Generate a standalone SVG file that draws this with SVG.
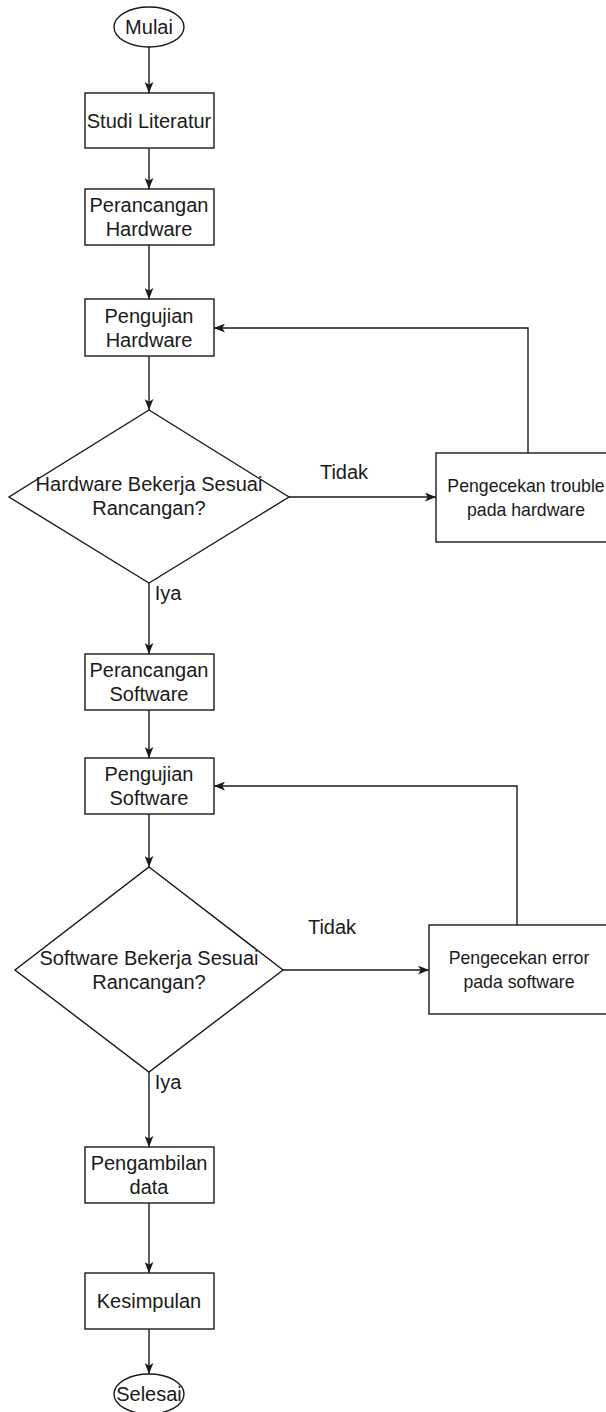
<svg xmlns="http://www.w3.org/2000/svg" width="606" height="1412" viewBox="0 0 606 1412">
<defs>
<style>
.shape{fill:#ffffff;stroke:#1a1a1a;stroke-width:1.4}
.conn{fill:none;stroke:#1a1a1a;stroke-width:1.4}
text{font-family:"Liberation Sans",Arial,Helvetica,sans-serif;font-size:20px;fill:#1a1a1a;text-anchor:middle;dominant-baseline:central}
text.sm{font-size:17.7px}
</style>
<marker id="arr" viewBox="0 0 10 8" refX="10" refY="4" markerWidth="11" markerHeight="9" markerUnits="userSpaceOnUse" orient="auto">
<path d="M0,0 L10,4 L0,8 L2.5,4 Z" fill="#1a1a1a"/>
</marker>
</defs>
<rect width="606" height="1412" fill="#ffffff"/>
<g id="connectors">
<path class="conn" d="M149,47 L149,93" marker-end="url(#arr)"/>
<path class="conn" d="M149,148 L149,189" marker-end="url(#arr)"/>
<path class="conn" d="M149,245 L149,299" marker-end="url(#arr)"/>
<path class="conn" d="M149,356 L149,410" marker-end="url(#arr)"/>
<path class="conn" d="M289,497 L436,497" marker-end="url(#arr)"/>
<path class="conn" d="M528,453 L528,328 L214,328" marker-end="url(#arr)"/>
<path class="conn" d="M149,583 L149,654" marker-end="url(#arr)"/>
<path class="conn" d="M149,710 L149,758" marker-end="url(#arr)"/>
<path class="conn" d="M149,814 L149,867" marker-end="url(#arr)"/>
<path class="conn" d="M283,970 L429,970" marker-end="url(#arr)"/>
<path class="conn" d="M517,925 L517,786 L214,786" marker-end="url(#arr)"/>
<path class="conn" d="M149,1072 L149,1147" marker-end="url(#arr)"/>
<path class="conn" d="M149,1203 L149,1273" marker-end="url(#arr)"/>
<path class="conn" d="M149,1329 L149,1374" marker-end="url(#arr)"/>
<text x="344" y="472">Tidak</text>
<text x="168" y="593">Iya</text>
<text x="332" y="927">Tidak</text>
<text x="168" y="1082">Iya</text>
</g>
<g id="mulai">
<ellipse class="shape" cx="149" cy="27" rx="35" ry="20"/>
<text x="149" y="27">Mulai</text>
</g>
<g id="studi-literatur">
<rect class="shape" x="85" y="93" width="129" height="55"/>
<text x="149" y="120.5">Studi Literatur</text>
</g>
<g id="perancangan-hardware">
<rect class="shape" x="85" y="189" width="129" height="56"/>
<text x="149" y="205">Perancangan</text>
<text x="149" y="229">Hardware</text>
</g>
<g id="pengujian-hardware">
<rect class="shape" x="85" y="299" width="129" height="57"/>
<text x="149" y="315.5">Pengujian</text>
<text x="149" y="339.5">Hardware</text>
</g>
<g id="decision-hardware">
<polygon class="shape" points="149,410 289,497 149,583 9,497"/>
<text x="149" y="484">Hardware Bekerja Sesuai</text>
<text x="149" y="508">Rancangan?</text>
</g>
<g id="cek-hardware">
<rect class="shape" x="436" y="453" width="184" height="89"/>
<text class="sm" x="526" y="486">Pengecekan trouble</text>
<text class="sm" x="526" y="510">pada hardware</text>
</g>
<g id="perancangan-software">
<rect class="shape" x="85" y="654" width="129" height="56"/>
<text x="149" y="670">Perancangan</text>
<text x="149" y="694">Software</text>
</g>
<g id="pengujian-software">
<rect class="shape" x="85" y="758" width="129" height="56"/>
<text x="149" y="774">Pengujian</text>
<text x="149" y="798">Software</text>
</g>
<g id="decision-software">
<polygon class="shape" points="149,867 283,970 149,1072 15,970"/>
<text x="149" y="958">Software Bekerja Sesuai</text>
<text x="149" y="982">Rancangan?</text>
</g>
<g id="cek-software">
<rect class="shape" x="429" y="925" width="180" height="89"/>
<text class="sm" x="519" y="958">Pengecekan error</text>
<text class="sm" x="519" y="982">pada software</text>
</g>
<g id="pengambilan-data">
<rect class="shape" x="85" y="1147" width="129" height="56"/>
<text x="149" y="1163">Pengambilan</text>
<text x="149" y="1187">data</text>
</g>
<g id="kesimpulan">
<rect class="shape" x="85" y="1273" width="129" height="56"/>
<text x="149" y="1301">Kesimpulan</text>
</g>
<g id="selesai">
<ellipse class="shape" cx="149" cy="1394" rx="35" ry="20"/>
<text x="149" y="1394">Selesai</text>
</g>
</svg>
